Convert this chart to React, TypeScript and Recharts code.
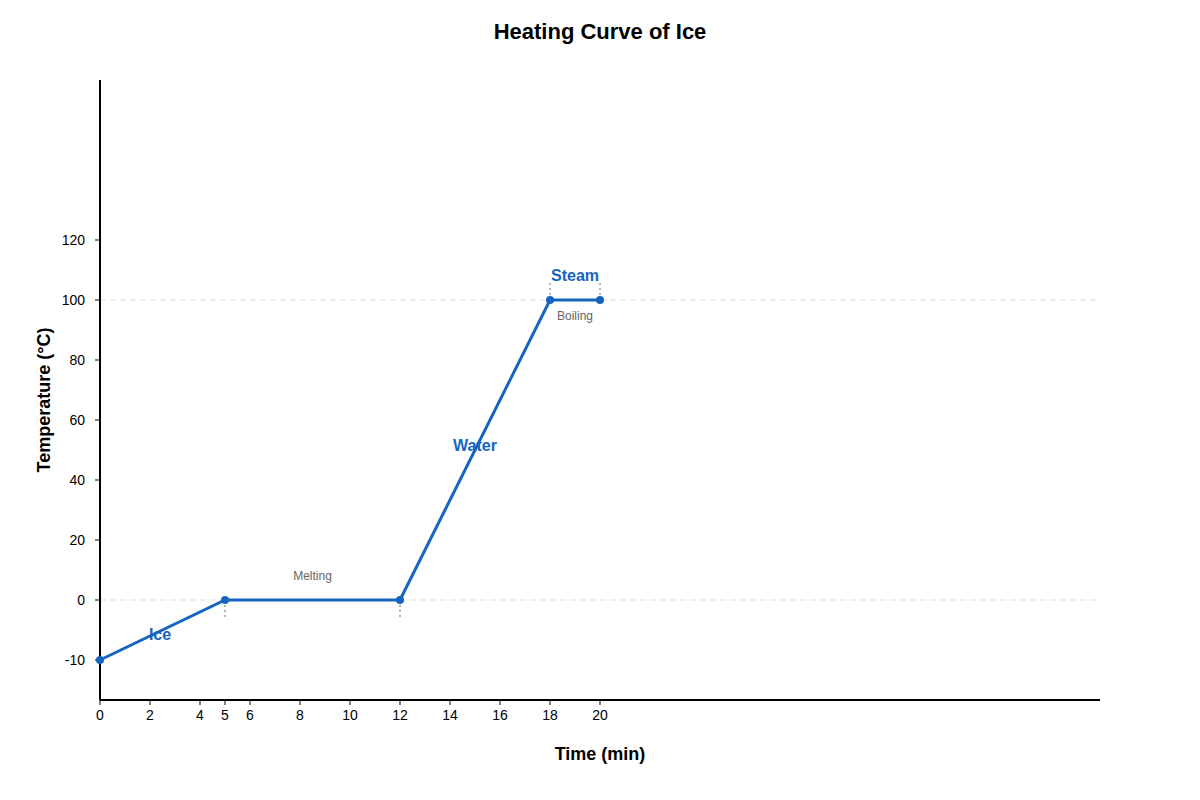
import {
  LineChart, Line, XAxis, YAxis, ReferenceLine, ReferenceDot, Label,
} from "recharts";

// heating curve points
const times = [0, 5, 12, 18, 20];
const temps = [-10, 0, 0, 100, 100];

const xTicks = [0, 2, 4, 5, 6, 8, 10, 12, 14, 16, 18, 20];
const yTicks = [-10, 0, 20, 40, 60, 80, 100, 120];

const phaseNames = ["Ice", "Water", "Steam"];
const phaseAt = [[2.4, -5.8], [15, 51.7], [19, 108.3]];

const changeNames = ["Melting", "Boiling"];
const changeAt = [[8.5, 8], [19, 94.7]];

// short dotted markers at phase transitions: [time, from, to]
const markers = [[5, 0, -3.3], [12, 0, -3.3], [18, 100, 106.7], [20, 100, 106.7]];

// the axis gives the -10..0 step the same room as each 20-degree step
const axisPos = (temp: number) => (temp < 0 ? temp * 2 : temp);
const axisLabel = (pos: number) => String(pos < 0 ? pos / 2 : pos);

const data = times.map((t, i) => ({ t, temp: temps[i] }));

const BLUE = "#1565c0";
const FONT = "'Liberation Sans', Arial, sans-serif";

export default function App() {
  return (
    <div style={{ position: "absolute", left: 0, top: 0, width: 1200, height: 800, fontFamily: FONT, background: "#fff" }}>
      <div style={{ position: "absolute", top: 19, width: 1200, textAlign: "center", fontSize: 22, fontWeight: "bold", color: "#000" }}>
        Heating Curve of Ice
      </div>
      <LineChart width={1200} height={800} data={data} margin={{ top: 80, right: 100, bottom: 70, left: 40 }}>
        <XAxis
          dataKey="t"
          type="number"
          domain={[0, 40]}
          ticks={xTicks}
          interval={0}
          height={30}
          tick={{ fill: "#000", fontSize: 14 }}
          tickSize={5}
          tickMargin={5}
          axisLine={{ stroke: "#000", strokeWidth: 2 }}
          tickLine={{ stroke: "#000" }}
        >
          <Label value="Time (min)" position="bottom" offset={17} style={{ fontSize: 18, fontWeight: "bold", fill: "#000" }} />
        </XAxis>
        <YAxis
          type="number"
          domain={[-100 / 3, 520 / 3]}
          ticks={yTicks.map(axisPos)}
          tickFormatter={axisLabel}
          interval={0}
          width={60}
          allowDataOverflow
          tick={{ fill: "#000", fontSize: 14 }}
          tickSize={5}
          tickMargin={10}
          axisLine={{ stroke: "#000", strokeWidth: 2 }}
          tickLine={{ stroke: "#000" }}
        >
          <Label
            content={() => (
              <text
                transform="translate(50, 400) rotate(-90)"
                textAnchor="middle"
                style={{ fontSize: 18, fontWeight: "bold", fill: "#000" }}
              >
                Temperature (°C)
              </text>
            )}
          />
        </YAxis>
        <ReferenceLine y={axisPos(0)} stroke="#ddd" strokeDasharray="6 4" />
        <ReferenceLine y={axisPos(100)} stroke="#ddd" strokeDasharray="6 4" />
        {markers.map(([t, a, b], i) => (
          <ReferenceLine key={i} segment={[{ x: t, y: axisPos(a) }, { x: t, y: axisPos(b) }]} stroke="#999" strokeDasharray="2 3" strokeWidth={1.5} />
        ))}
        <Line
          type="linear"
          dataKey={(d: { temp: number }) => axisPos(d.temp)}
          stroke={BLUE}
          strokeWidth={3}
          dot={{ r: 4, fill: BLUE, stroke: BLUE, strokeWidth: 0 }}
          isAnimationActive={false}
        />
        {phaseNames.map((name, i) => (
          <ReferenceDot key={name} x={phaseAt[i][0]} y={axisPos(phaseAt[i][1])} r={0} fill="none" stroke="none">
            <Label value={name} position="center" style={{ fontSize: 16, fontWeight: "bold", fill: BLUE }} />
          </ReferenceDot>
        ))}
        {changeNames.map((name, i) => (
          <ReferenceDot key={name} x={changeAt[i][0]} y={axisPos(changeAt[i][1])} r={0} fill="none" stroke="none">
            <Label value={name} position="center" style={{ fontSize: 12, fill: "#666" }} />
          </ReferenceDot>
        ))}
      </LineChart>
    </div>
  );
}
